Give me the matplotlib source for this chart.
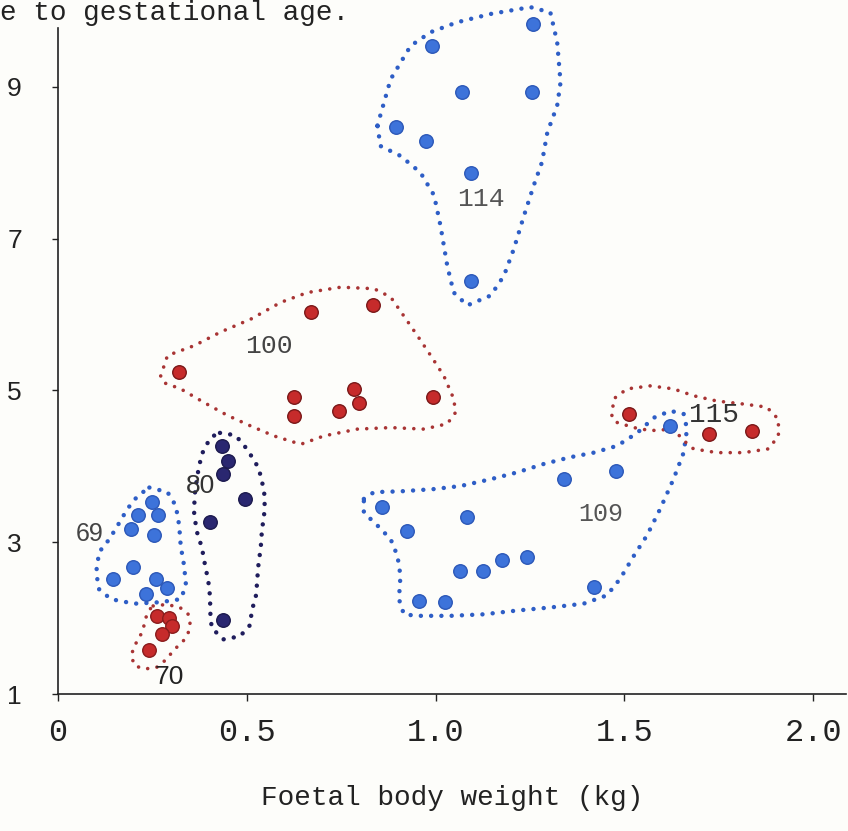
import matplotlib.pyplot as plt

# foetal body weight (kg) vs. value, grouped by gestational age (days)
g114_x = [1.257, 0.991, 1.071, 1.256, 0.894, 0.974, 1.093, 1.093]
g114_y = [9.83, 9.54, 8.93, 8.93, 8.47, 8.29, 7.87, 6.44]

g100_x = [0.321, 0.669, 0.834, 0.625, 0.625, 0.743, 0.784, 0.797, 0.993]
g100_y = [5.24, 6.03, 6.12, 4.91, 4.66, 4.73, 5.02, 4.84, 4.91]

g109_x = [0.859, 0.925, 1.084, 1.339, 1.478, 1.066, 1.126, 1.176, 1.243, 0.956, 1.026, 1.419, 1.622]
g109_y = [3.46, 3.15, 3.33, 3.83, 3.94, 2.62, 2.62, 2.77, 2.80, 2.23, 2.21, 2.41, 4.53]

g115_x = [1.511, 1.723, 1.838]
g115_y = [4.69, 4.43, 4.47]

g69_x = [0.250, 0.211, 0.266, 0.193, 0.255, 0.198, 0.145, 0.259, 0.290, 0.233]
g69_y = [3.53, 3.36, 3.36, 3.18, 3.09, 2.67, 2.52, 2.52, 2.39, 2.32]

g70_x = [0.261, 0.295, 0.301, 0.275, 0.242]
g70_y = [2.03, 2.00, 1.90, 1.79, 1.58]

g80_x = [0.435, 0.451, 0.438, 0.495, 0.403, 0.438]
g80_y = [4.27, 4.07, 3.90, 3.57, 3.26, 1.98]

# hand-drawn enclosures around each group (data units)
ring114 = [(0.846, 8.49), (0.881, 9.10), (0.934, 9.54), (0.987, 9.72), (1.057, 9.85),
           (1.146, 9.96), (1.251, 10.05), (1.304, 9.98), (1.322, 9.59), (1.331, 9.06),
           (1.322, 8.75), (1.296, 8.40), (1.282, 8.01), (1.260, 7.70), (1.234, 7.30),
           (1.207, 6.86), (1.181, 6.51), (1.146, 6.25), (1.084, 6.12), (1.048, 6.29),
           (1.031, 6.64), (1.013, 7.17), (0.996, 7.57), (0.960, 7.87), (0.907, 8.09),
           (0.854, 8.22)]
ring100 = [(0.272, 5.19), (0.290, 5.46), (0.361, 5.59), (0.431, 5.77), (0.511, 5.94),
           (0.590, 6.16), (0.661, 6.29), (0.749, 6.36), (0.837, 6.34), (0.881, 6.23),
           (0.916, 5.98), (0.952, 5.72), (0.987, 5.46), (1.022, 5.19), (1.048, 4.89),
           (1.053, 4.71), (1.031, 4.56), (0.969, 4.49), (0.881, 4.51), (0.793, 4.49),
           (0.704, 4.40), (0.643, 4.29), (0.572, 4.40), (0.511, 4.53), (0.449, 4.67),
           (0.387, 4.84), (0.325, 5.02), (0.281, 5.10)]
ring109 = [(0.810, 3.57), (0.837, 3.66), (0.907, 3.67), (0.996, 3.70), (1.066, 3.74),
           (1.146, 3.83), (1.216, 3.92), (1.286, 4.03), (1.357, 4.12), (1.419, 4.18),
           (1.481, 4.27), (1.534, 4.44), (1.578, 4.64), (1.622, 4.73), (1.657, 4.69),
           (1.666, 4.49), (1.657, 4.18), (1.630, 3.83), (1.595, 3.44), (1.560, 3.09),
           (1.525, 2.82), (1.489, 2.52), (1.454, 2.30), (1.392, 2.19), (1.304, 2.14),
           (1.216, 2.10), (1.128, 2.05), (1.040, 2.03), (0.952, 2.03), (0.916, 2.05),
           (0.903, 2.25), (0.907, 2.56), (0.899, 2.82), (0.881, 3.04), (0.846, 3.22),
           (0.810, 3.39)]
ring115 = [(1.467, 4.67), (1.472, 4.89), (1.507, 5.02), (1.569, 5.06), (1.630, 5.02),
           (1.683, 4.93), (1.745, 4.86), (1.816, 4.82), (1.877, 4.78), (1.908, 4.62),
           (1.908, 4.40), (1.882, 4.23), (1.816, 4.18), (1.745, 4.18), (1.683, 4.23),
           (1.657, 4.34), (1.630, 4.49), (1.569, 4.47), (1.525, 4.51), (1.479, 4.58)]
ring69 = [(0.242, 3.72), (0.290, 3.66), (0.312, 3.48), (0.321, 3.22), (0.325, 2.95),
          (0.334, 2.69), (0.339, 2.43), (0.325, 2.25), (0.272, 2.21), (0.202, 2.19),
          (0.140, 2.25), (0.109, 2.38), (0.101, 2.60), (0.109, 2.87), (0.136, 3.04),
          (0.158, 3.22), (0.184, 3.44), (0.211, 3.61)]
ring70 = [(0.252, 2.16), (0.288, 2.18), (0.323, 2.14), (0.345, 2.05), (0.350, 1.92),
          (0.345, 1.81), (0.332, 1.70), (0.305, 1.57), (0.288, 1.46), (0.261, 1.35),
          (0.230, 1.33), (0.204, 1.37), (0.195, 1.48), (0.199, 1.61), (0.213, 1.72),
          (0.226, 1.85), (0.230, 1.98), (0.244, 2.12)]
ring80 = [(0.429, 4.44), (0.469, 4.41), (0.491, 4.29), (0.509, 4.16), (0.531, 3.98),
          (0.540, 3.81), (0.548, 3.59), (0.546, 3.37), (0.540, 3.15), (0.537, 2.93),
          (0.531, 2.71), (0.528, 2.53), (0.525, 2.31), (0.513, 2.09), (0.509, 1.91),
          (0.482, 1.76), (0.438, 1.72), (0.407, 1.87), (0.403, 2.09), (0.403, 2.27),
          (0.398, 2.49), (0.389, 2.71), (0.381, 2.93), (0.367, 3.15), (0.360, 3.41),
          (0.363, 3.67), (0.372, 3.96), (0.381, 4.16), (0.394, 4.29), (0.407, 4.39)]

xticks = [0, 0.5, 1.0, 1.5, 2.0]
xtick_labels = ["0", "0.5", "1.0", "1.5", "2.0"]
yticks = [1, 3, 5, 7, 9]

BLUE = "#3d73da"
NAVY = "#2a2770"
RED = "#c62b2b"

fig = plt.figure(figsize=(8.48, 8.31), dpi=100, facecolor="#fdfdfa")
ax = fig.add_axes([58 / 848, 137 / 831, 788 / 848, 666 / 831])
ax.set_facecolor("#fdfdfa")
ax.set_xlim(0, 2.087)
ax.set_ylim(1, 1 + 666 / 75.9)


def ring(pts, color, lw=3.2, gap=2.3):
    xs = [p[0] for p in pts] + [pts[0][0]]
    ys = [p[1] for p in pts] + [pts[0][1]]
    ax.plot(xs, ys, color=color, lw=lw, linestyle=(0, (0.01, gap)),
            dash_capstyle="round", clip_on=False, zorder=2)


def dots(xs, ys, face, edge):
    ax.scatter(xs, ys, s=95, c=face, edgecolors=edge, linewidths=1.0,
               clip_on=False, zorder=3)


ring(ring114, "#2e5ec6")
ring(ring109, "#2e5ec6")
ring(ring69, "#2e5ec6")
ring(ring80, "#1f1d5c")
ring(ring100, "#a83434", lw=2.6, gap=2.6)
ring(ring115, "#a83434", lw=2.6, gap=2.6)
ring(ring70, "#a83434", lw=2.6, gap=2.6)

dots(g114_x, g114_y, BLUE, "#2c58b8")
dots(g109_x, g109_y, BLUE, "#2c58b8")
dots(g69_x, g69_y, BLUE, "#2c58b8")
dots(g80_x, g80_y, NAVY, "#1c1a4e")
dots(g100_x, g100_y, RED, "#7a1818")
dots(g115_x, g115_y, RED, "#7a1818")
dots(g70_x, g70_y, RED, "#8a1c1c")

mono = "Liberation Mono"
sans = "Liberation Sans"
ax.text(1.119, 7.52, "114", family=mono, fontsize=19, color="#555555", ha="center", va="center")
ax.text(0.559, 5.59, "100", family=mono, fontsize=19, color="#444444", ha="center", va="center")
ax.text(1.437, 3.37, "109", family=mono, fontsize=18, color="#555555", ha="center", va="center")
ax.text(1.736, 4.67, "115", family=mono, fontsize=20, color="#333333", ha="center", va="center")
ax.text(0.083, 3.11, "69", family=sans, fontsize=18, color="#444444", ha="center", va="center")
ax.text(0.378, 3.74, "80", family=sans, fontsize=19, color="#333333", ha="center", va="center")
ax.text(0.295, 1.22, "70", family=sans, fontsize=19, color="#222222", ha="center", va="center")

for side in ["top", "right"]:
    ax.spines[side].set_visible(False)
for side in ["left", "bottom"]:
    ax.spines[side].set_linewidth(1.2)
    ax.spines[side].set_color("#222222")

ax.set_xticks(xticks)
ax.set_xticklabels(xtick_labels, family=mono, fontsize=23)
ax.set_yticks(yticks)
ax.set_yticklabels([str(v) for v in yticks], family=sans, fontsize=19)
ax.tick_params(axis="x", direction="out", length=5, width=1, pad=12, colors="#222222")
ax.tick_params(axis="y", direction="out", length=4, width=1, pad=22, colors="#222222")

ax.set_xlabel("Foetal body weight (kg)", family=mono, fontsize=20, labelpad=27, color="#222222")

fig.text(0.0, 1 - 20 / 831, "e to gestational age.", family=mono, fontsize=20,
         color="#222222", ha="left", va="baseline")

fig.savefig("out.png", dpi=100, facecolor=fig.get_facecolor())
